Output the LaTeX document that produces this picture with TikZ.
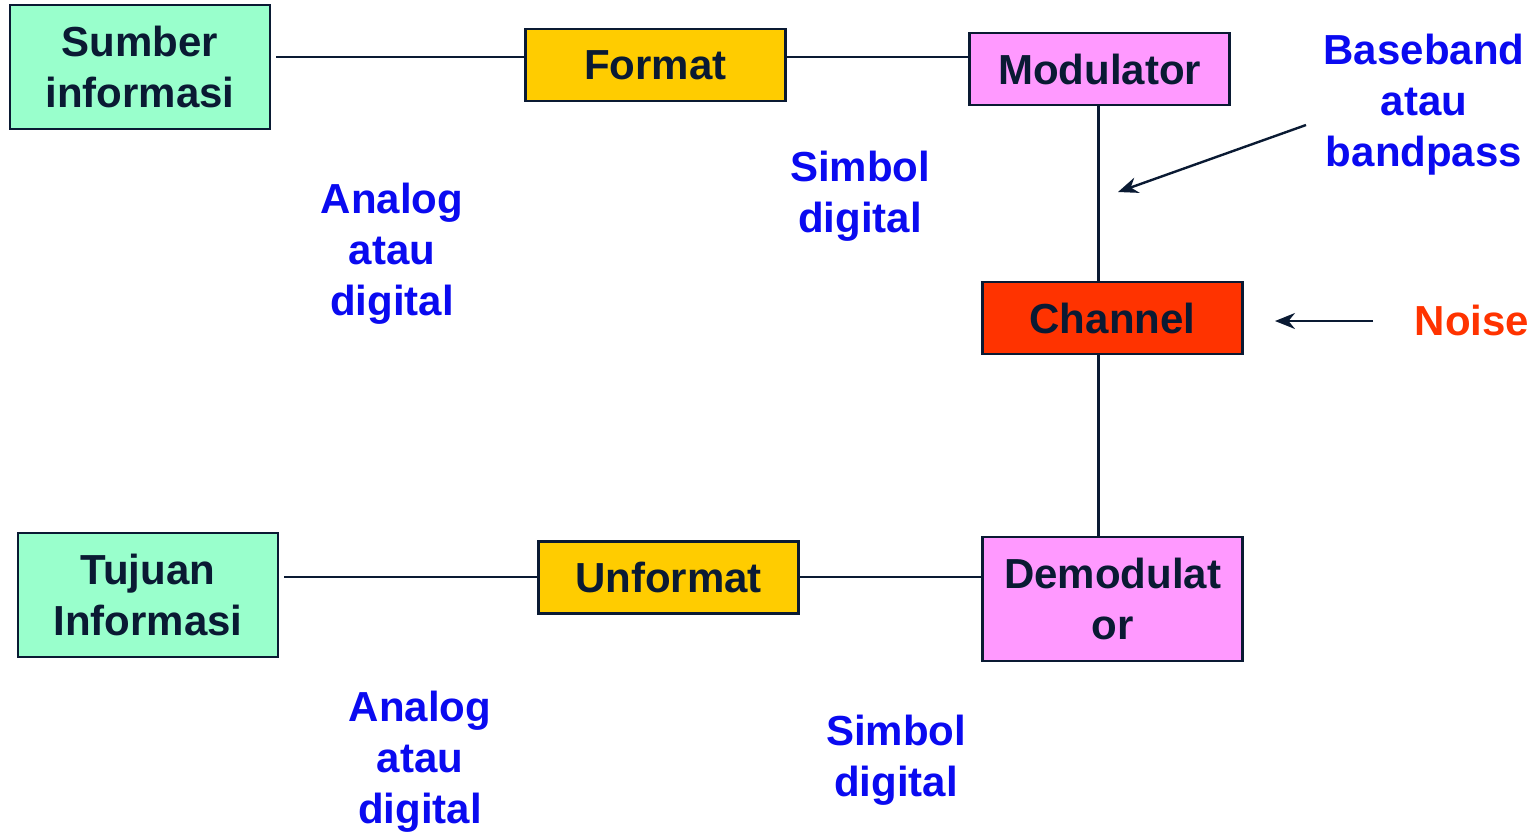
\documentclass[tikz,border=0pt]{standalone}
\usepackage{fontspec}
\setmainfont{Liberation Sans}
\usetikzlibrary{arrows.meta,calc}
\definecolor{ink}{HTML}{0A1A33}
\definecolor{boxgreen}{HTML}{99FFCC}
\definecolor{boxyellow}{HTML}{FFCC00}
\definecolor{boxpink}{HTML}{FF99FF}
\definecolor{boxred}{HTML}{FF3300}
\definecolor{lblblue}{HTML}{0A0AF0}
\definecolor{noisered}{HTML}{FF3300}
\tikzset{
  blk/.style={draw=ink, line width=1.1pt, text=ink, inner sep=0pt, align=center,
    font=\fontsize{21}{25.5}\selectfont\bfseries, minimum width=130pt},
  lbl/.style={text=lblblue, align=center, inner sep=0pt,
    font=\fontsize{21}{25.5}\selectfont\bfseries},
  conn/.style={draw=ink, line width=1.2pt},
  arr/.style={draw=ink, line width=1.2pt, -{Stealth[length=10pt,width=8pt]}}
}
\begin{document}
\begin{tikzpicture}[x=0.5pt,y=-0.5pt]
\useasboundingbox (0,0) rectangle (1536,832);
% boxes
\node[blk, fill=boxgreen, minimum height=62pt] (src) at (140,67) {Sumber\\informasi};
\node[blk, fill=boxyellow, minimum height=36pt] (fmt) at (655.5,65) {Format};
\node[blk, fill=boxpink, minimum height=36pt] (mod) at (1099.5,69) {Modulator};
\node[blk, fill=boxred, minimum height=36pt] (ch) at (1112.5,318) {Channel};
\node[blk, fill=boxpink, minimum height=62pt] (dem) at (1112.5,599) {Demodulat\\or};
\node[blk, fill=boxyellow, minimum height=36pt] (unf) at (668.5,577.5) {Unformat};
\node[blk, fill=boxgreen, minimum height=62pt] (dst) at (148,595) {Tujuan\\Informasi};
% connectors
\coordinate (t1) at ([shift={(5,-10)}]src.east);
\draw[conn] (t1) -- (fmt.west |- t1);
\draw[conn] (fmt.east |- t1) -- (mod.west |- t1);
\coordinate (vx) at ([xshift=-7pt]ch.north);
\draw[conn] (mod.south -| vx) -- (vx);
\draw[conn] (ch.south -| vx) -- (dem.north -| vx);
\coordinate (b1) at ([shift={(5,-18)}]dst.east);
\draw[conn] (b1) -- (unf.west |- b1);
\draw[conn] (unf.east |- b1) -- (dem.west |- b1);
% labels
\node[lbl] (l1) at (392,254) {Analog\\atau\\digital};
\node[lbl] (l2) at (860,196) {Simbol\\digital};
\node[lbl] (bb) at (1424,105) {Baseband\\atau\\bandpass};
\node[lbl, text=noisered] (noise) at (1472,320) {Noise};
\node[lbl] (l3) at (420,762) {Analog\\atau\\digital};
\node[lbl] (l4) at (896,760) {Simbol\\digital};
% arrows
\coordinate (bbs) at (1306,125);
\coordinate (bbe) at (1118,192);
\draw[arr] (bbs) -- (bbe);
\coordinate (ns) at (1373,321);
\coordinate (ne) at (1275,321);
\draw[arr] (ns) -- (ne);
\end{tikzpicture}
\end{document}
